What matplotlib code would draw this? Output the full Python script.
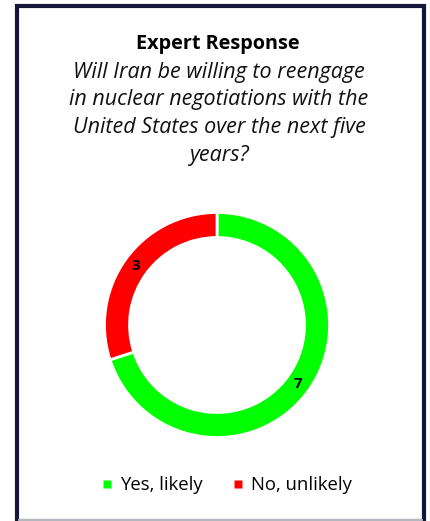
import matplotlib.pyplot as plt
import numpy as np
from matplotlib.patches import Rectangle
from matplotlib.lines import Line2D

labels = ['Yes, likely', 'No, unlikely']
counts = [7, 3]
colors = ['#00ff00', '#ff0000']

W, H = 430, 521
fig = plt.figure(figsize=(W / 100, H / 100), dpi=100)
plt.rcParams['font.family'] = ['Open Sans', 'DejaVu Sans']

# frame round the whole chart
fig.patches.append(Rectangle((17 / W, 0), 407 / W, (H - 5.5) / H, transform=fig.transFigure,
                             fill=False, edgecolor='#16163a', linewidth=3))
fig.add_artist(plt.Line2D([19 / W, 422 / W], [0.6 / H, 0.6 / H], transform=fig.transFigure,
                          color='#d8d8dc', linewidth=1.2))

fig.text(218 / W, 1 - 44 / H, 'Expert Response', ha='center', va='center',
         fontsize=14.3, fontweight='bold')
question = ['Will Iran be willing to reengage', 'in nuclear negotiations with the',
            'United States over the next five', 'years?']
for i, line in enumerate(question):
    fig.text(219 / W, 1 - (72 + 28 * i) / H, line, ha='center', va='center',
             fontsize=15.5, style='italic', color='#111111')

# donut
r_out = 112.5
ax = fig.add_axes([(217 - r_out) / W, (H - 325 - r_out) / H, 2 * r_out / W, 2 * r_out / H])
wedges, _ = ax.pie(counts, colors=colors, startangle=90, counterclock=False,
                   wedgeprops=dict(width=25 / r_out, edgecolor='white', linewidth=2))
for w, c in zip(wedges, counts):
    ang = np.deg2rad((w.theta1 + w.theta2) / 2)
    r = 1 - 12.5 / r_out
    ax.text(r * np.cos(ang), r * np.sin(ang), str(c), ha='center', va='center',
            fontsize=11, fontweight='bold')
ax.set_xlim(-1, 1)
ax.set_ylim(-1, 1)
ax.set_aspect('equal')

handles = [Line2D([], [], marker='s', linestyle='none', markersize=5.5,
                  markerfacecolor=c, markeredgecolor='none') for c in colors]
fig.legend(handles, labels, loc='center', bbox_to_anchor=(227 / W, 1 - 485 / H), ncol=2,
           frameon=False, fontsize=13.3, handlelength=0.5,
           handletextpad=0.45, columnspacing=1.7)

fig.savefig('out.png', dpi=100)
